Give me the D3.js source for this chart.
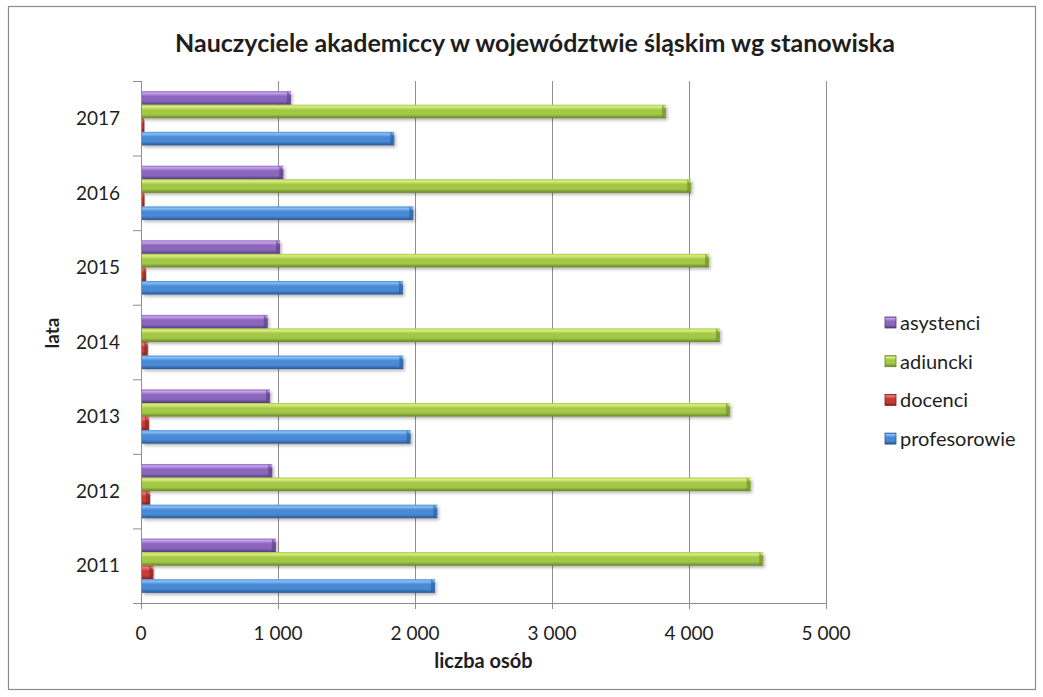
<!DOCTYPE html>
<html lang="pl">
<head>
<meta charset="utf-8">
<script src="https://cdn.jsdelivr.net/npm/d3@7/dist/d3.min.js"></script>
<style>
  html, body { margin: 0; padding: 0; background: #fff; }
  svg { display: block; }
  text { font-family: Lato, "Open Sans", "Liberation Sans", sans-serif; fill: #1e1e1e; }
</style>
</head>
<body>
<svg class="svg-chart" width="1043" height="697"></svg>
<script>
  const YEARS = ['2011', '2012', '2013', '2014', '2015', '2016', '2017'];
  const PROFESOROWIE = [2146, 2163, 1968, 1915, 1912, 1988, 1849];
  const DOCENCI = [90, 66, 58, 49, 36, 25, 24];
  const ADIUNKCI = [4542, 4450, 4299, 4226, 4146, 4016, 3832];
  const ASYSTENCI = [985, 958, 942, 925, 1015, 1039, 1095];
  const X_TICKS = [0, 1000, 2000, 3000, 4000, 5000];

  // bar order inside a year group, top to bottom
  const SERIES = [
    { key: 'asystenci', values: ASYSTENCI, light: '#c7a3ee', base: '#8b66bd', dark: '#553a7c' },
    { key: 'adiuncki', values: ADIUNKCI, light: '#dcf07e', base: '#a3c747', dark: '#66822a' },
    { key: 'docenci', values: DOCENCI, light: '#e8807c', base: '#c43c37', dark: '#80201d' },
    { key: 'profesorowie', values: PROFESOROWIE, light: '#86c0f5', base: '#4889d6', dark: '#2a5690' }
  ];
  // legend order, top to bottom
  const LEGEND = ['asystenci', 'adiuncki', 'docenci', 'profesorowie'];

  init();

  function init() {
    let svg = d3.select('.svg-chart'),
      left = 141,
      right = 826,
      top = 81,
      bottom = 603;

    let defs = svg.append('defs');
    let shadow = defs.append('filter').attr('id', 'shadow')
      .attr('x', '-5%').attr('y', '-30%').attr('width', '115%').attr('height', '180%');
    shadow.append('feDropShadow')
      .attr('dx', 1.5).attr('dy', 2).attr('stdDeviation', 1.4)
      .attr('flood-color', '#000').attr('flood-opacity', 0.28);

    SERIES.forEach(function (s) {
      let g = defs.append('linearGradient').attr('id', 'grad-' + s.key)
        .attr('x1', 0).attr('y1', 0).attr('x2', 0).attr('y2', 1);
      g.append('stop').attr('offset', '0%').attr('stop-color', s.base);
      g.append('stop').attr('offset', '14%').attr('stop-color', s.light);
      g.append('stop').attr('offset', '38%').attr('stop-color', s.base);
      g.append('stop').attr('offset', '72%').attr('stop-color', s.base);
      g.append('stop').attr('offset', '100%').attr('stop-color', s.dark);
    });

    // outer frame
    svg.append('rect')
      .attr('x', 8.5).attr('y', 6.5)
      .attr('width', 1027).attr('height', 683)
      .attr('fill', '#fff')
      .attr('stroke', '#8c8c8c')
      .attr('stroke-width', 1.2);

    let x = d3.scaleLinear().domain([0, 5000]).range([left, right]);
    let y = d3.scaleBand().domain(YEARS.slice().reverse()).range([top, bottom]);
    let yInner = d3.scaleBand().domain(SERIES.map(function (s) { return s.key; }))
      .range([0, y.bandwidth()])
      .paddingInner(0)
      .paddingOuter(0.75);

    /*
     * gridlines
     */
    svg.append('g')
      .selectAll('line')
      .data(X_TICKS.slice(1))
      .enter()
      .append('line')
      .attr('x1', function (d) { return x(d) + 0.5; })
      .attr('x2', function (d) { return x(d) + 0.5; })
      .attr('y1', top)
      .attr('y2', bottom)
      .attr('stroke', '#8e8e8e')
      .attr('stroke-width', 1);

    /*
     * bars
     */
    let rows = [];
    SERIES.forEach(function (s) {
      s.values.forEach(function (v, i) {
        rows.push({ key: s.key, year: YEARS[i], value: v, s: s });
      });
    });

    let bars = svg.append('g').attr('class', 'bars')
      .selectAll('g')
      .data(rows)
      .enter()
      .append('g')
      .attr('filter', 'url(#shadow)');

    bars.append('rect')
      .attr('x', x(0) + 1)
      .attr('y', function (d) { return y(d.year) + yInner(d.key); })
      .attr('width', function (d) { return Math.max(0, x(d.value) - x(0) - 1); })
      .attr('height', yInner.bandwidth())
      .attr('fill', function (d) { return 'url(#grad-' + d.key + ')'; });

    // bevelled end of each bar
    bars.append('path')
      .attr('d', function (d) {
        let x1 = x(d.value),
          y0 = y(d.year) + yInner(d.key),
          h = yInner.bandwidth(),
          b = Math.min(4, (x1 - x(0)) / 2);
        return 'M' + (x1 - b) + ',' + y0 + 'L' + x1 + ',' + (y0 + b) +
          'L' + x1 + ',' + (y0 + h - b) + 'L' + (x1 - b) + ',' + (y0 + h) + 'Z';
      })
      .attr('fill', function (d) { return d.s.dark; })
      .attr('opacity', 0.55);

    /*
     * axes
     */
    let yAxis = svg.append('g');
    yAxis.append('line')
      .attr('x1', left + 0.5).attr('x2', left + 0.5)
      .attr('y1', top).attr('y2', bottom)
      .attr('stroke', '#8e8e8e');
    yAxis.selectAll('line.tick')
      .data(YEARS.concat(['end']))
      .enter()
      .append('line')
      .attr('class', 'tick')
      .attr('x1', left - 8).attr('x2', left)
      .attr('y1', function (d) { return d === 'end' ? bottom + 0.5 : y(d) + 0.5; })
      .attr('y2', function (d) { return d === 'end' ? bottom + 0.5 : y(d) + 0.5; })
      .attr('stroke', '#8e8e8e');
    yAxis.selectAll('text')
      .data(YEARS)
      .enter()
      .append('text')
      .text(function (d) { return d; })
      .attr('x', 120)
      .attr('y', function (d) { return y(d) + y.bandwidth() / 2; })
      .attr('dy', '0.35em')
      .attr('text-anchor', 'end')
      .attr('font-size', 19);

    let xAxis = svg.append('g');
    xAxis.append('line')
      .attr('x1', left).attr('x2', right + 1)
      .attr('y1', bottom + 0.5).attr('y2', bottom + 0.5)
      .attr('stroke', '#8e8e8e');
    xAxis.selectAll('line.tick')
      .data(X_TICKS)
      .enter()
      .append('line')
      .attr('class', 'tick')
      .attr('x1', function (d) { return x(d) + 0.5; })
      .attr('x2', function (d) { return x(d) + 0.5; })
      .attr('y1', bottom)
      .attr('y2', bottom + 6)
      .attr('stroke', '#8e8e8e');
    let fmt = function (d) {
      return d3.format(',')(d).replace(/,/g, '\u00a0');
    };
    xAxis.selectAll('text')
      .data(X_TICKS)
      .enter()
      .append('text')
      .text(fmt)
      .attr('x', function (d) { return x(d); })
      .attr('y', 633)
      .attr('dy', '0.35em')
      .attr('text-anchor', 'middle')
      .attr('font-size', 19);

    /*
     * titles
     */
    svg.append('text')
      .text('Nauczyciele akademiccy w województwie śląskim wg stanowiska')
      .attr('x', 535)
      .attr('y', 52)
      .attr('text-anchor', 'middle')
      .attr('font-size', 25)
      .attr('font-weight', 'bold');

    svg.append('text')
      .text('liczba osób')
      .attr('x', (left + right) / 2)
      .attr('y', 668)
      .attr('text-anchor', 'middle')
      .attr('font-size', 20)
      .attr('font-weight', 'bold');

    svg.append('text')
      .text('lata')
      .attr('transform', 'translate(59,333) rotate(-90)')
      .attr('text-anchor', 'middle')
      .attr('font-size', 19)
      .attr('font-weight', 'bold');

    /*
     * legend
     */
    let byKey = {};
    SERIES.forEach(function (s) { byKey[s.key] = s; });
    let legend = svg.append('g')
      .selectAll('g')
      .data(LEGEND)
      .enter()
      .append('g')
      .attr('transform', function (d, i) {
        return 'translate(885,' + (322 + i * 38.7) + ')';
      });
    legend.append('rect')
      .attr('x', 0).attr('y', -5)
      .attr('width', 11).attr('height', 11)
      .attr('fill', function (d) { return 'url(#grad-' + d + ')'; })
      .attr('stroke', function (d) { return byKey[d].dark; })
      .attr('stroke-width', 0.8);
    legend.append('text')
      .text(function (d) { return d; })
      .attr('x', 15)
      .attr('y', 1)
      .attr('dy', '0.35em')
      .attr('font-size', 20);
  }
</script>
</body>
</html>
